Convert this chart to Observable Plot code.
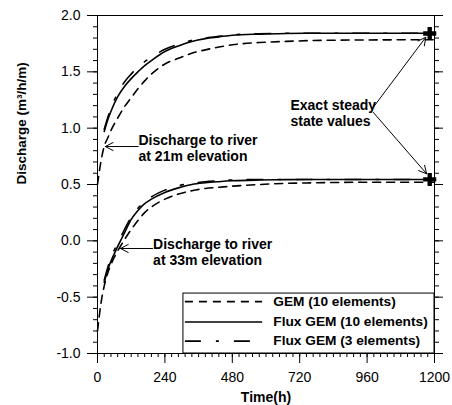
<!DOCTYPE html>
<html><head><meta charset="utf-8">
<script src="https://cdn.jsdelivr.net/npm/d3@7"></script>
<script src="https://cdn.jsdelivr.net/npm/@observablehq/plot@0.6"></script>
<style>
body{margin:0;background:#fff;}
#chart svg{display:block;}
</style></head><body><div id="chart"></div>
<script>
// ---- data ----
const seriesNames = ["GEM (10 elements)", "Flux GEM (10 elements)", "Flux GEM (3 elements)"];
const timeGEM  = [0, 12, 24, 36, 48, 72, 96, 120, 144, 168, 192, 240, 288, 336, 384, 432, 480, 576, 672, 768, 960, 1200];
const gem21    = [0.50, 0.70, 0.84, 0.91, 0.98, 1.09, 1.19, 1.27, 1.35, 1.42, 1.48, 1.57, 1.62, 1.665, 1.695, 1.72, 1.74, 1.76, 1.77, 1.778, 1.783, 1.785];
const gem33    = [-0.80, -0.56, -0.40, -0.29, -0.21, -0.09, 0.01, 0.10, 0.18, 0.25, 0.30, 0.37, 0.415, 0.445, 0.465, 0.475, 0.485, 0.50, 0.51, 0.515, 0.52, 0.52];
const timeFlux = [24, 36, 48, 72, 96, 120, 144, 168, 192, 240, 288, 336, 384, 432, 480, 576, 672, 768, 960, 1200];
const flux10_21 = [0.97, 1.07, 1.15, 1.28, 1.37, 1.44, 1.50, 1.555, 1.60, 1.68, 1.73, 1.77, 1.795, 1.81, 1.825, 1.835, 1.84, 1.842, 1.842, 1.842];
const flux3_21  = [0.99, 1.09, 1.18, 1.31, 1.41, 1.48, 1.54, 1.59, 1.63, 1.70, 1.745, 1.78, 1.80, 1.815, 1.828, 1.838, 1.842, 1.842, 1.842, 1.842];
const flux10_33 = [-0.37, -0.26, -0.18, -0.05, 0.07, 0.19, 0.27, 0.33, 0.37, 0.43, 0.47, 0.50, 0.515, 0.525, 0.533, 0.54, 0.543, 0.545, 0.545, 0.545];
const flux3_33  = [-0.35, -0.24, -0.15, -0.02, 0.10, 0.21, 0.29, 0.345, 0.39, 0.45, 0.49, 0.51, 0.525, 0.533, 0.54, 0.544, 0.545, 0.545, 0.545, 0.545];
const steadyTime = [1183, 1183];
const steadyValue = [1.84, 0.545];
const xTicks = [0, 240, 480, 720, 960, 1200];
const yTicks = [-1.0, -0.5, 0.0, 0.5, 1.0, 1.5, 2.0];
const annotationText = ["Discharge to river\nat 21m elevation", "Discharge to river\nat 33m elevation", "Exact steady\nstate values"];

// ---- build tables ----
const toRows = (times, vals, s, g) => times.map((t, i) => ({t, v: vals[i], s, g}));
const curves = [
  ...toRows(timeGEM, gem21, 0, "a"), ...toRows(timeGEM, gem33, 0, "b"),
  ...toRows(timeFlux, flux10_21, 1, "a"), ...toRows(timeFlux, flux10_33, 1, "b"),
  ...toRows(timeFlux, flux3_21, 2, "a"), ...toRows(timeFlux, flux3_33, 2, "b")
];
const dashes = ["8,6", null, "16,15,3,15"];
const steady = steadyTime.map((t, i) => ({t, v: steadyValue[i]}));
const minorX = d3.range(0, 1201, 24);
const minorY = d3.range(-10, 21).map(d => d / 10);

// annotation anchors (data units)
const notes = [
  {t: 146, v: 0.955, text: annotationText[0]},
  {t: 198, v: 0.03, text: annotationText[1]},
  {t: 687, v: 1.265, text: annotationText[2]}
];
const arrows = [
  {x1: 145, y1: 0.837, x2: 28, y2: 0.837},
  {x1: 196, y1: -0.068, x2: 82, y2: -0.068},
  {x1: 982, y1: 1.185, x2: 1169, y2: 1.807},
  {x1: 982, y1: 1.14, x2: 1172, y2: 0.595}
];
const legendY = [-0.54, -0.72, -0.89];
const legend = seriesNames.map((name, i) => ({name, i, v: legendY[i]}));

const font = "'Liberation Sans', Arial, Helvetica, sans-serif";

const marks = [
  Plot.frame({stroke: "black", strokeWidth: 1}),
  // axes
  Plot.axisY({ticks: yTicks, tickSize: 10, tickPadding: 7, tickFormat: d => d.toFixed(1), fontSize: 14, label: null, stroke: "black"}),
  Plot.axisY({ticks: minorY, tickSize: 4, fill: "none", tickFormat: () => "", label: null, stroke: "black"}),
  Plot.axisY({anchor: "right", ticks: yTicks, tickSize: 8, fill: "none", tickFormat: () => "", label: null, stroke: "black"}),
  Plot.axisY({anchor: "right", ticks: minorY, tickSize: 4, fill: "none", tickFormat: () => "", label: null, stroke: "black"}),
  Plot.axisX({ticks: xTicks, tickSize: 10, tickPadding: 9, tickFormat: d => String(d), fontSize: 14, label: null, stroke: "black"}),
  Plot.axisX({ticks: minorX, tickSize: 4, fill: "none", tickFormat: () => "", label: null, stroke: "black"}),
  // curves
  ...[0, 1, 2].map(s => Plot.line(curves.filter(d => d.s === s), {
    x: "t", y: "v", z: "g", curve: "monotone-x", stroke: "black", strokeWidth: 1.6,
    strokeDasharray: dashes[s]
  })),
  // steady markers
  Plot.dot(steady, {x: "t", y: "v", symbol: "cross", r: 5.5, fill: "black", stroke: "none"}),
  // annotations
  Plot.text(notes, {x: "t", y: "v", text: "text", textAnchor: "start", lineAnchor: "top", lineHeight: 1.16, fontSize: 14, fontWeight: "bold", fill: "black"}),
  Plot.arrow(arrows, {x1: "x1", y1: "y1", x2: "x2", y2: "y2", headLength: 13, headAngle: 55, strokeWidth: 1, stroke: "black"}),
  // legend box
  Plot.rect([{x1: 306, x2: 1200, y1: -1.0, y2: -0.468}], {x1: "x1", x2: "x2", y1: "y1", y2: "y2", fill: "white", stroke: "black", strokeWidth: 1}),
  ...legend.map(d => Plot.ruleY([d.v], {x1: 313, x2: 588, stroke: "black", strokeWidth: 1.6, strokeDasharray: dashes[d.i]})),
  Plot.text(legend, {x: 626, y: "v", text: "name", textAnchor: "start", lineAnchor: "middle", fontSize: 13.7, fontWeight: "bold", fill: "black"}),
  // axis titles
  Plot.text(["Discharge (m³/h/m)"], {frameAnchor: "left", rotate: -90, dx: -76, fontSize: 13.5, fontWeight: "bold", fill: "black", lineAnchor: "middle"}),
  Plot.text(["Time(h)"], {frameAnchor: "bottom", dy: 44, fontSize: 14, fontWeight: "bold", fill: "black", lineAnchor: "middle"})
];

const chart = Plot.plot({
  width: 452,
  height: 405,
  marginLeft: 97,
  marginRight: 18,
  marginTop: 15,
  marginBottom: 52,
  x: {domain: [0, 1200], axis: null},
  y: {domain: [-1, 2], axis: null},
  style: {fontFamily: font, background: "white", color: "black", overflow: "visible"},
  marks
});
document.getElementById("chart").appendChild(chart);
</script>
</body></html>
